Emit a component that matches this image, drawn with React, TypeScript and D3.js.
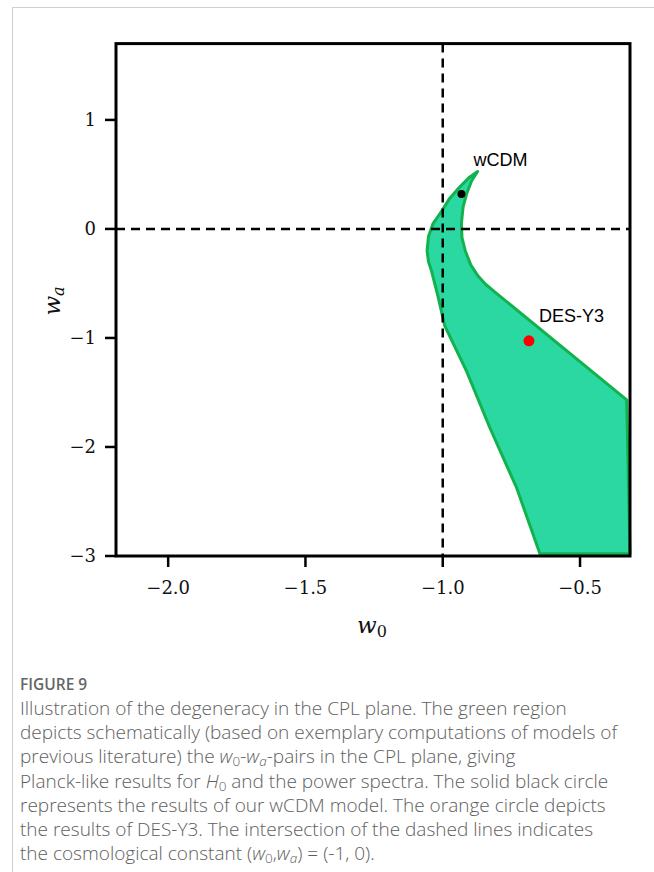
import React from "react";
import * as d3 from "d3";

// Axis tick values and their printed labels
const xTicks = [-2.0, -1.5, -1.0, -0.5];
const xTickLabels = ["−2.0", "−1.5", "−1.0", "−0.5"];
const yTicks = [1, 0, -1, -2, -3];
const yTickLabels = ["1", "0", "−1", "−2", "−3"];

// Outline of the degeneracy region in the (w0, wa) plane
const regionW0 = [
  -0.873, -0.905, -0.94, -0.975, -1.005, -1.036, -1.052, -1.057, -1.052, -1.04, -1.018, -0.993,
  -0.913, -0.828, -0.731, -0.646, -0.318, -0.33, -0.812, -0.845, -0.872, -0.898, -0.918,
  -0.93, -0.932, -0.926, -0.912, -0.895,
];
const regionWa = [
  0.527, 0.47, 0.38, 0.28, 0.16, 0.046, -0.07, -0.2, -0.3, -0.393, -0.612, -0.886,
  -1.306, -1.826, -2.374, -2.98, -2.98, -1.568, -0.575, -0.505, -0.43, -0.33, -0.2,
  -0.08, 0.05, 0.2, 0.33, 0.44,
];

// Marked models
const pointNames = ["wCDM", "DES-Y3"];
const pointW0 = [-0.932, -0.686];
const pointWa = [0.32, -1.026];
const pointColors = ["#000000", "#ff0000"];
const pointRadii = [4, 5.5];

// Reference lines: cosmological constant
const lambdaW0 = -1;
const lambdaWa = 0;

const captionTitle = "FIGURE 9";

const W = 654;
const H = 872;

export default function App() {
  const x = d3.scaleLinear().domain([-2.19, -0.318]).range([116, 630]);
  const y = d3.scaleLinear().domain([-3, 1.7]).range([556, 43.6]);

  const regionPts: [number, number][] = regionW0.map((w, i) => [x(w), y(regionWa[i])]);
  const regionPath = d3.line().curve(d3.curveLinear)(regionPts) + "Z";

  const [x0, x1] = x.range();
  const [yb, yt] = y.range();

  const serif = "'DejaVu Serif', serif";
  const capFont = "'Open Sans', 'Lato', sans-serif";
  const capColor = "#5e5e5e";
  const sub = 13.5;

  const captionLines: React.ReactNode[] = [
    <>Illustration of the degeneracy in the CPL plane. The green region</>,
    <>depicts schematically (based on exemplary computations of models of</>,
    <>
      previous literature) the <tspan fontStyle="italic">w</tspan>
      <tspan fontSize={sub} dy="3">0</tspan>
      <tspan dy="-3">-</tspan>
      <tspan fontStyle="italic">w</tspan>
      <tspan fontSize={sub} dy="3" fontStyle="italic">a</tspan>
      <tspan dy="-3">-pairs in the CPL plane, giving</tspan>
    </>,
    <>
      Planck-like results for <tspan fontStyle="italic">H</tspan>
      <tspan fontSize={sub} dy="3">0</tspan>
      <tspan dy="-3"> and the power spectra. The solid black circle</tspan>
    </>,
    <>represents the results of our wCDM model. The orange circle depicts</>,
    <>the results of DES-Y3. The intersection of the dashed lines indicates</>,
    <>
      the cosmological constant (<tspan fontStyle="italic">w</tspan>
      <tspan fontSize={sub} dy="3">0</tspan>
      <tspan dy="-3">,</tspan>
      <tspan fontStyle="italic">w</tspan>
      <tspan fontSize={sub} dy="3" fontStyle="italic">a</tspan>
      <tspan dy="-3">) = (-1, 0).</tspan>
    </>,
  ];

  return (
    <div style={{ position: "absolute", left: 0, top: 0 }}>
      <svg width={W} height={H} viewBox={`0 0 ${W} ${H}`} style={{ display: "block", background: "#fff" }}>
        {/* card outline */}
        <line x1={12.5} y1={7.5} x2={W} y2={7.5} stroke="#cfcfcf" strokeWidth={1} />
        <line x1={12.5} y1={7.5} x2={12.5} y2={H} stroke="#cfcfcf" strokeWidth={1} />

        {/* degeneracy region */}
        <path d={regionPath} fill="#2bd8a2" stroke="#12b24e" strokeWidth={3} strokeLinejoin="round" />

        {/* dashed reference lines */}
        <line x1={x(lambdaW0)} x2={x(lambdaW0)} y1={yt} y2={yb} stroke="#000" strokeWidth={2.5} strokeDasharray="9 6" />
        <line x1={x0} x2={x1} y1={y(lambdaWa)} y2={y(lambdaWa)} stroke="#000" strokeWidth={2.5} strokeDasharray="9 6" />

        {/* model points and labels */}
        {pointNames.map((n, i) => (
          <circle key={n} cx={x(pointW0[i])} cy={y(pointWa[i])} r={pointRadii[i]} fill={pointColors[i]} />
        ))}
        <text x={x(pointW0[0]) + 12} y={y(pointWa[0]) - 28} fontFamily="'Liberation Sans', Arial, sans-serif" fontSize={18} fill="#000">
          {pointNames[0]}
        </text>
        <text x={x(pointW0[1]) + 10} y={y(pointWa[1]) - 19} fontFamily="'Liberation Sans', Arial, sans-serif" fontSize={18} fill="#000">
          {pointNames[1]}
        </text>

        {/* frame */}
        <rect x={x0} y={yt} width={x1 - x0} height={yb - yt} fill="none" stroke="#000" strokeWidth={3} />

        {/* y axis */}
        {yTicks.map((t, i) => (
          <g key={"y" + t}>
            <line x1={x0 - 11} x2={x0} y1={y(t)} y2={y(t)} stroke="#000" strokeWidth={2.5} />
            <text x={x0 - 20} y={y(t) + 6} textAnchor="end" fontFamily={serif} fontSize={18} fill="#111">
              {yTickLabels[i]}
            </text>
          </g>
        ))}
        {/* x axis */}
        {xTicks.map((t, i) => (
          <g key={"x" + t}>
            <line x1={x(t)} x2={x(t)} y1={yb} y2={yb + 11} stroke="#000" strokeWidth={2.5} />
            <text x={x(t)} y={yb + 38} textAnchor="middle" fontFamily={serif} fontSize={18} fill="#111">
              {xTickLabels[i]}
            </text>
          </g>
        ))}

        {/* axis titles */}
        <text x={372} y={633} textAnchor="middle" fontFamily={serif} fontSize={23} fill="#111">
          <tspan fontStyle="italic">w</tspan>
          <tspan fontSize={16} dy={4}>0</tspan>
        </text>
        <text transform="translate(60,301) rotate(-90)" textAnchor="middle" fontFamily={serif} fontSize={23} fill="#111">
          <tspan fontStyle="italic">w</tspan>
          <tspan fontSize={16} dy={4} fontStyle="italic">a</tspan>
        </text>

        {/* caption */}
        <text x={20} y={690} fontFamily={capFont} fontSize={15.5} fontWeight={600} fill="#666">
          {captionTitle}
        </text>
        {captionLines.map((ln, i) => (
          <text key={i} x={20} y={715 + i * 24.2} fontFamily={capFont} fontSize={19} fontWeight={300} fill={capColor}>
            {ln}
          </text>
        ))}
      </svg>
    </div>
  );
}
